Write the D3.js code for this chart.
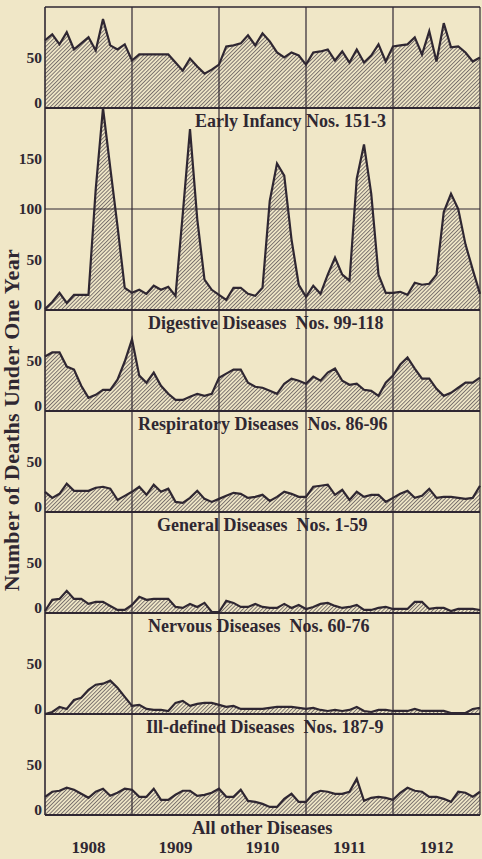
<!DOCTYPE html>
<html>
<head>
<meta charset="utf-8">
<script src="https://cdn.jsdelivr.net/npm/d3@7"></script>
<style>
    body { margin: 0; background: #f0e7c7; }
    svg { display: block; }
    text { font-family: "Liberation Serif", "Times New Roman", serif; font-weight: bold; fill: #2f2732; white-space: pre; }
</style>
</head>
<body>
<svg id="chart" width="482" height="859"></svg>
<script>
// monthly deaths under one year, Jan 1908 .. Jan 1913 (61 points per panel)
const years = ['1908', '1909', '1910', '1911', '1912'];

const earlyInfancy = [67, 73, 63, 75, 58, 64, 70, 57, 88, 62, 58, 63, 47,
    53, 53, 53, 53, 53, 45, 37, 49, 41, 34, 38, 43,
    61, 62, 64, 72, 62, 74, 66, 55, 50, 55, 52, 43,
    55, 56, 58, 47, 56, 45, 58, 45, 52, 63, 46, 61,
    62, 63, 70, 53, 76, 46, 84, 60, 61, 55, 46, 50];
const digestive = [1, 8, 17, 7, 15, 15, 15, 120, 201, 141, 83, 22, 17,
    20, 16, 24, 20, 23, 14, 95, 179, 90, 30, 20, 15,
    10, 22, 22, 16, 14, 22, 108, 145, 133, 70, 25, 13,
    24, 16, 35, 52, 35, 29, 130, 164, 115, 35, 17, 17,
    18, 15, 27, 25, 26, 35, 97, 115, 100, 65, 40, 16];
const respiratory = [54, 58, 58, 44, 41, 25, 13, 16, 21, 21, 31, 49, 71,
    35, 28, 38, 25, 17, 11, 11, 14, 17, 15, 17, 33,
    37, 41, 41, 28, 24, 23, 20, 17, 27, 32, 30, 27,
    34, 30, 38, 42, 30, 26, 27, 21, 20, 15, 28, 35,
    46, 53, 42, 32, 32, 22, 15, 18, 23, 28, 28, 33];
const general = [20, 14, 18, 28, 21, 21, 21, 24, 25, 23, 12, 16, 20,
    25, 17, 27, 20, 23, 10, 9, 14, 21, 13, 10, 13,
    16, 19, 18, 14, 15, 17, 11, 15, 20, 18, 15, 15,
    25, 26, 27, 17, 22, 12, 20, 15, 17, 17, 10, 14,
    18, 21, 14, 16, 23, 14, 15, 15, 14, 13, 14, 26];
const nervous = [2, 13, 14, 22, 14, 14, 9, 11, 11, 7, 3, 3, 8,
    16, 13, 14, 14, 14, 6, 5, 9, 6, 10, 1, 1,
    12, 10, 6, 6, 9, 6, 5, 5, 9, 5, 8, 4,
    6, 9, 10, 7, 5, 6, 8, 3, 3, 5, 6, 4,
    4, 4, 11, 11, 4, 5, 5, 2, 4, 4, 4, 3];
const illDefined = [0, 2, 7, 5, 14, 16, 24, 29, 30, 33, 26, 17, 8,
    9, 5, 4, 4, 3, 11, 13, 8, 10, 11, 11, 9,
    7, 8, 5, 5, 5, 5, 6, 7, 7, 7, 6, 5,
    6, 4, 3, 4, 3, 4, 7, 3, 2, 4, 4, 3,
    3, 3, 5, 3, 3, 3, 3, 1, 1, 1, 5, 6];
const allOther = [18, 23, 24, 27, 25, 21, 17, 23, 26, 19, 22, 26, 25,
    18, 18, 26, 15, 15, 20, 24, 24, 19, 20, 22, 26,
    18, 18, 25, 14, 13, 11, 8, 8, 16, 21, 13, 13,
    21, 24, 23, 21, 21, 23, 36, 14, 17, 18, 17, 15,
    22, 27, 24, 23, 18, 18, 16, 13, 23, 22, 18, 23];

const series = [earlyInfancy, digestive, respiratory, general, nervous, illDefined, allOther];
const labels = ['Early Infancy Nos. 151-3', 'Digestive Diseases  Nos. 99-118',
    'Respiratory Diseases  Nos. 86-96', 'General Diseases  Nos. 1-59',
    'Nervous Diseases  Nos. 60-76', 'Ill-defined Diseases  Nos. 187-9', 'All other Diseases'];
const panelMax = [100, 200, 100, 100, 100, 100, 100];
const panelTicks = [[0, 50], [0, 50, 100, 150], [0, 50], [0, 50], [0, 50], [0, 50], [0, 50]];

(function () {
    let ink = '#2f2732';
    let top = 7, left = 45, right = 480;
    let unit = 1.01; // px per death

    let svg = d3.select('#chart');

    let pattern = svg.append('defs').append('pattern')
        .attr('id', 'hatch')
        .attr('patternUnits', 'userSpaceOnUse')
        .attr('width', 2.7)
        .attr('height', 2.7)
        .attr('patternTransform', 'rotate(45)');
    pattern.append('line')
        .attr('x1', 0.5).attr('y1', 0)
        .attr('x2', 0.5).attr('y2', 2.7)
        .attr('stroke', '#4a424a')
        .attr('stroke-width', 0.7);

    let x = d3.scaleLinear().domain([0, 60]).range([left, right]);

    let y0 = top;
    let panels = series.map(function (values, i) {
        let h = panelMax[i] * unit;
        let y = d3.scaleLinear().domain([0, panelMax[i]]).range([y0 + h, y0]).clamp(true);
        y0 += h;
        return { values: values, y: y, i: i };
    });
    let bottom = y0;

    panels.forEach(function (p) {
        let g = svg.append('g');
        let area = d3.area()
            .x(function (d, j) { return x(j); })
            .y0(p.y(0))
            .y1(function (d) { return p.y(d); });
        let line = d3.line()
            .x(function (d, j) { return x(j); })
            .y(function (d) { return p.y(d); })
            .curve(d3.curveLinear);

        g.append('path')
            .datum(p.values)
            .attr('d', area)
            .attr('fill', 'url(#hatch)');
        g.append('path')
            .datum(p.values)
            .attr('d', line)
            .attr('fill', 'none')
            .attr('stroke', ink)
            .attr('stroke-width', 2.2)
            .attr('stroke-linejoin', 'miter');

        let axis = d3.axisLeft(p.y)
            .tickValues(panelTicks[p.i])
            .tickSize(0)
            .tickPadding(2)
            .tickFormat(d3.format('d'));
        let ag = svg.append('g')
            .attr('transform', 'translate(' + (left - 1) + ',0)')
            .call(axis);
        ag.select('.domain').remove();
        ag.selectAll('text')
            .attr('fill', ink)
            .style('font-size', '15.5px')
            .style('font-family', '"Liberation Serif", serif')
            .filter(function (d) { return d === 0; })
            .attr('y', -5);

        // baseline of the panel
        svg.append('line')
            .attr('x1', left).attr('x2', right)
            .attr('y1', p.y(0)).attr('y2', p.y(0))
            .attr('stroke', ink)
            .attr('stroke-width', 2);
    });

    // middle rule of the double panel
    svg.append('line')
        .attr('x1', left).attr('x2', right)
        .attr('y1', panels[1].y(100)).attr('y2', panels[1].y(100))
        .attr('stroke', ink)
        .attr('stroke-width', 1);

    // frame and year dividers
    svg.append('line')
        .attr('x1', left).attr('x2', right)
        .attr('y1', top).attr('y2', top)
        .attr('stroke', ink).attr('stroke-width', 1.5);
    svg.selectAll('.year-line')
        .data([0, 12, 24, 36, 48, 60])
        .enter()
        .append('line')
        .attr('class', 'year-line')
        .attr('x1', function (d) { return x(d); })
        .attr('x2', function (d) { return x(d); })
        .attr('y1', top)
        .attr('y2', bottom)
        .attr('stroke', ink)
        .attr('stroke-width', function (d) { return d === 0 ? 1.6 : 1.2; });

    // panel captions sit just under each baseline
    let labelX = [195, 148, 138, 157, 148, 146, 192];
    svg.selectAll('.caption')
        .data(panels)
        .enter()
        .append('text')
        .attr('class', 'caption')
        .attr('x', function (d) { return labelX[d.i]; })
        .attr('y', function (d) { return d.y(0) + 19; })
        .style('font-size', function (d) { return d.i === 6 ? '18.5px' : '18px'; })
        .text(function (d) { return labels[d.i]; });

    svg.selectAll('.year')
        .data(years)
        .enter()
        .append('text')
        .attr('class', 'year')
        .attr('x', function (d, i) { return x(i * 12 + 6); })
        .attr('y', 853)
        .attr('text-anchor', 'middle')
        .style('font-size', '17px')
        .text(function (d) { return d; });

    svg.append('text')
        .attr('transform', 'translate(19,420) rotate(-90)')
        .attr('text-anchor', 'middle')
        .style('font-size', '22px')
        .style('letter-spacing', '0.4px')
        .text('Number of Deaths Under One Year');
})();
</script>
</body>
</html>
